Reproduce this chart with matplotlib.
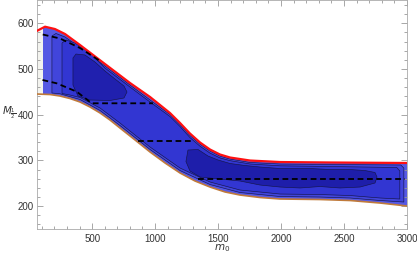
import numpy as np
import matplotlib
matplotlib.use('Agg')
import matplotlib.pyplot as plt
from matplotlib.patches import Polygon, Rectangle

# upper edge (red) and lower edge (orange) of the allowed band
top_m0 = [60, 126, 205, 285, 404, 602, 801, 960, 1118, 1198, 1277, 1357, 1436, 1515, 1595, 1754, 1992, 2389, 3000]
top_M = [583.2, 592.6, 587.5, 576.6, 552.5, 511.0, 469.4, 438.8, 403.8, 381.9, 358.9, 339.2, 323.9, 313.0, 306.4, 299.8, 296.5, 295.5, 294.4]

bot_m0 = [60, 166, 245, 324, 404, 483, 563, 642, 721, 841, 960, 1079, 1198, 1317, 1436, 1555, 1674, 1833, 1992, 2309, 2548, 2786, 3000]
bot_M = [445.3, 444.2, 440.9, 435.5, 427.8, 416.9, 403.8, 388.4, 370.9, 344.7, 318.4, 294.4, 272.5, 255.0, 241.8, 231.0, 224.3, 218.9, 215.6, 214.5, 212.3, 206.8, 200.3]

# contour regions (closed outlines)
lev2_m0 = [181, 213, 285, 404, 602, 801, 960, 1118, 1198, 1277, 1357, 1436, 1515, 1595, 1754, 1992, 2389, 2951, 2975,
           2975, 2786, 2548, 2309, 1992, 1674, 1436, 1198, 960, 721, 563, 404, 245, 181]
lev2_M = [572.2, 577.7, 570.0, 547.1, 506.6, 465.0, 432.2, 400.5, 378.5, 354.5, 335.5, 320.5, 309.5, 303.0, 295.5, 292.2, 291.1, 290.0, 283.4,
          209.0, 212.3, 217.8, 219.9, 221.0, 229.8, 247.3, 277.9, 323.9, 376.4, 409.2, 433.3, 445.8, 447.5]

lev3_m0 = [261, 293, 364, 483, 602, 801, 960, 1118, 1198, 1277, 1357, 1436, 1515, 1595, 1754, 1992, 2389, 2919, 2943,
           2943, 2786, 2548, 2309, 1992, 1674, 1436, 1198, 960, 721, 563, 404, 324, 261]
lev3_M = [556.9, 563.5, 556.9, 535.0, 502.2, 460.6, 427.8, 396.1, 374.2, 350.0, 331.0, 316.0, 305.5, 299.5, 292.2, 288.2, 286.7, 284.5, 276.9,
          215.6, 217.8, 223.2, 225.4, 226.5, 235.3, 252.8, 283.4, 329.3, 381.9, 414.7, 437.7, 443.1, 446.4]

islandA_m0 = [348, 372, 443, 523, 602, 682, 753, 777, 753, 642, 483, 388, 348]
islandA_M = [524.1, 532.8, 530.7, 515.3, 495.7, 478.1, 462.8, 449.7, 436.6, 431.1, 432.2, 440.9, 465.0]

islandB_m0 = [1261, 1341, 1420, 1500, 1595, 1714, 1833, 1992, 2230, 2389, 2548, 2667, 2746, 2762, 2746,
              2627, 2468, 2309, 2151, 1992, 1833, 1674, 1515, 1357, 1277, 1245]
islandB_M = [322.8, 323.9, 309.7, 300.9, 293.3, 288.9, 285.6, 282.3, 282.3, 280.1, 280.1, 277.9, 273.6, 263.7, 250.6,
             241.8, 239.7, 242.9, 239.7, 241.8, 246.2, 255.0, 259.3, 263.7, 276.9, 297.6]

# dashed lines
dash1_m0 = [108, 245, 404, 563]
dash1_M = [575.5, 566.8, 546.0, 517.5]
dash2_m0 = [106, 219, 378, 497, 983]
dash2_M = [476.0, 468.7, 450.4, 425.0, 425.0]
dash3_m0 = [867, 1303]
dash3_M = [342.5, 342.5]
dash4_m0 = [1343, 2984]
dash4_M = [259.3, 259.3]

blank_upto = 108  # no points left of this

fig = plt.figure(figsize=(4.17, 2.57), dpi=100)
ax = fig.add_axes([0.088, 0.109, 0.888, 0.891])

band_xy = np.column_stack([top_m0 + bot_m0[::-1], top_M + bot_M[::-1]])
band = Polygon(band_xy, closed=True, facecolor='#5558e4', edgecolor='none', zorder=1)
ax.add_patch(band)
blank = Rectangle((60, 100), blank_upto - 60, 600, facecolor='#f3f3ee', edgecolor='none', zorder=1.5)
ax.add_patch(blank)
blank.set_clip_path(band)

edge = '#15154a'
for xs, ys, col, z in [(lev2_m0, lev2_M, '#4145db', 2),
                       (lev3_m0, lev3_M, '#3236d2', 3),
                       (islandA_m0, islandA_M, '#2020ae', 4),
                       (islandB_m0, islandB_M, '#1e1eaa', 4)]:
    p = Polygon(np.column_stack([xs, ys]), closed=True, facecolor=col, edgecolor=edge, lw=0.45, zorder=z)
    ax.add_patch(p)

ax.plot(top_m0, top_M, color='#ff1010', lw=1.6, zorder=6)
ax.plot(bot_m0, bot_M, color='#c07a3a', lw=1.2, zorder=6)

for xs, ys in [(dash1_m0, dash1_M), (dash2_m0, dash2_M), (dash3_m0, dash3_M), (dash4_m0, dash4_M)]:
    ax.plot(xs, ys, color='black', lw=1.3, dashes=(3.2, 2), zorder=7)

ax.set_xlim(60, 3000)
ax.set_ylim(150, 651)
ax.set_xticks([500, 1000, 1500, 2000, 2500, 3000])
ax.set_xticks(np.arange(100, 3000, 100), minor=True)
ax.set_yticks([200, 300, 400, 500, 600])
ax.set_yticks(np.arange(160, 651, 20), minor=True)
ax.tick_params(which='both', direction='in', top=True, right=True, color='#999999', width=0.6,
               labelsize=7, labelcolor='#333333', labelfontfamily='Liberation Sans')
ax.tick_params(which='major', length=4)
ax.tick_params(which='minor', length=2)
ax.tick_params(axis='x', pad=3.5)
ax.tick_params(axis='y', pad=2)
for s in ax.spines.values():
    s.set_color('#aaaaaa')
    s.set_linewidth(0.6)

ax.text(0.5, -0.085, r'$m_0$', transform=ax.transAxes, ha='center', va='center', fontsize=7.5, color='#333333')
ax.text(-0.075, 0.51, r'$M_{\frac{1}{2}}$', transform=ax.transAxes, ha='center', va='center', fontsize=7.5, color='#333333')

fig.savefig('out.png', dpi=100)
